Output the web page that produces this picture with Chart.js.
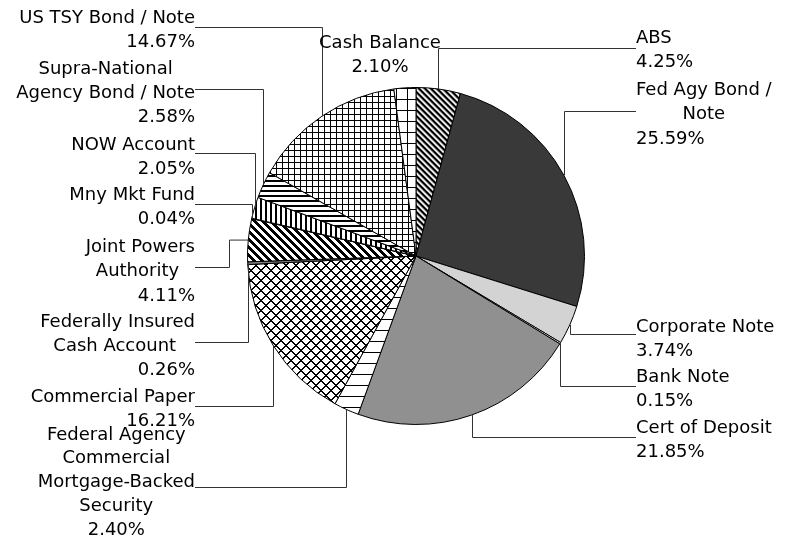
<!DOCTYPE html>
<html>
<head>
<meta charset="utf-8">
<script src="https://cdn.jsdelivr.net/npm/chart.js@4.4.1/dist/chart.umd.min.js"></script>
<style>
  html, body { margin: 0; padding: 0; background: #fff; }
  canvas { display: block; }
</style>
</head>
<body>
<canvas id="pie" width="794" height="541"></canvas>
<script>
// slices, clockwise from 12 o'clock
const categories = [
  "ABS", "Fed Agy Bond / Note", "Corporate Note", "Bank Note", "Cert of Deposit",
  "Federal Agency Commercial Mortgage-Backed Security", "Commercial Paper",
  "Federally Insured Cash Account", "Joint Powers Authority", "Mny Mkt Fund",
  "NOW Account", "Supra-National Agency Bond / Note", "US TSY Bond / Note", "Cash Balance"
];
const shares = [4.25, 25.59, 3.74, 0.15, 21.85, 2.40, 16.21, 0.26, 4.11, 0.04, 2.05, 2.58, 14.67, 2.10];

// where each label sits (x = edge given by align, y = centre of first line, ly = leader height)
const labelSpots = [
  { x: 636, y: 36, align: "left", lines: ["ABS"], ly: 48 },
  { x: 636, y: 88.3, align: "left", lines: ["Fed Agy Bond /", "Note"], ly: 111 },
  { x: 636, y: 325.5, align: "left", lines: ["Corporate Note"], ly: 334 },
  { x: 636, y: 375.5, align: "left", lines: ["Bank Note"], ly: 386 },
  { x: 636, y: 426, align: "left", lines: ["Cert of Deposit"], ly: 437 },
  { x: 195, y: 433, align: "right", lines: ["Federal Agency", "Commercial", "Mortgage-Backed", "Security"], ly: 487, pct: "center", step: 23.8 },
  { x: 195, y: 395, align: "right", lines: ["Commercial Paper"], ly: 406 },
  { x: 195, y: 320, align: "right", lines: ["Federally Insured", "Cash Account "], ly: 342 },
  { x: 195, y: 245.5, align: "right", lines: ["Joint Powers", "Authority "], ly: 267, bend: 229 },
  { x: 195, y: 193.5, align: "right", lines: ["Mny Mkt Fund"], ly: 204 },
  { x: 195, y: 143, align: "right", lines: ["NOW Account"], ly: 153 },
  { x: 195, y: 67, align: "right", lines: ["Supra-National", "Agency Bond / Note"], ly: 89 },
  { x: 195, y: 16.5, align: "right", lines: ["US TSY Bond / Note"], ly: 27 },
  { x: 380, y: 41.5, align: "center", lines: ["Cash Balance"], ly: null }
];

const FONT = '18px "DejaVu Sans"';
const LINE = 24.4;
const CAP = 6.5; // half cap height, centre -> baseline

const canvas = document.getElementById("pie");
const ctx = canvas.getContext("2d");

// little bitmap fills like the office hatch patterns
function hatch(w, h, paint) {
  const c = document.createElement("canvas");
  c.width = w; c.height = h;
  const g = c.getContext("2d");
  g.fillStyle = "#fff";
  g.fillRect(0, 0, w, h);
  for (let y = 0; y < h; y++) {
    for (let x = 0; x < w; x++) {
      const col = paint(x, y);
      if (col) { g.fillStyle = col; g.fillRect(x, y, 1, 1); }
    }
  }
  return ctx.createPattern(c, "repeat");
}
const mod = (a, n) => ((a % n) + n) % n;

const absFill = hatch(6, 6, (x, y) => ["#000", "#000", "#888", "#fff", "#ccc", "#666"][mod(x - y, 6)]);
const cmbsFill = hatch(4, 11, (x, y) => y === 0 ? "#000" : null);
const paperFill = hatch(10, 10, (x, y) => (mod(x + y, 10) < 2 || mod(x - y, 10) < 2) ? "#000" : null);
const jpaFill = hatch(8, 8, (x, y) => mod(x - y, 8) < 4 ? "#000" : null);
const nowFill = hatch(5, 5, (x, y) => x < 2 ? "#000" : null);
const supraFill = hatch(5, 5, (x, y) => y < 2 ? "#000" : null);
const tsyFill = hatch(6, 6, (x, y) => (x === 0 || y === 0) ? "#000" : null);
const cashFill = hatch(11, 11, (x, y) => (x === 0 || y === 0) ? "#000" : null);

const fills = [absFill, "#393939", "#d3d3d3", "#ffffff", "#909090", cmbsFill, paperFill,
  "#808080", jpaFill, "#ffffff", nowFill, supraFill, tsyFill, cashFill];

const px = v => Math.round(v) + 0.5;

const callouts = {
  id: "callouts",
  afterDraw(chart) {
    const c = chart.ctx;
    const arcs = chart.getDatasetMeta(0).data;
    c.save();
    c.font = FONT;
    c.textBaseline = "alphabetic";
    c.fillStyle = "#000";
    c.strokeStyle = "#333";
    c.lineWidth = 1;
    labelSpots.forEach((s, i) => {
      const step = s.step || LINE;
      const w = Math.max(...s.lines.map(t => c.measureText(t).width));
      const left = s.align === "left" ? s.x : s.align === "right" ? s.x - w : s.x - w / 2;
      const mid = left + w / 2;
      c.textAlign = "center";
      s.lines.forEach((t, k) => c.fillText(t, mid, s.y + k * step + CAP));
      const pct = shares[i].toFixed(2) + "%";
      const pa = s.pct || s.align;
      c.textAlign = pa;
      c.fillText(pct, pa === "center" ? mid : s.x, s.y + s.lines.length * step + CAP);

      if (s.ly == null) return;
      const a = arcs[i].getProps(["x", "y", "startAngle", "endAngle", "outerRadius"], true);
      const m = (a.startAngle + a.endAngle) / 2;
      const ex = a.x + a.outerRadius * Math.cos(m);
      const ey = a.y + a.outerRadius * Math.sin(m);
      const bx = s.bend != null ? s.bend : ex;
      c.beginPath();
      c.moveTo(s.x, px(s.ly));
      c.lineTo(px(bx), px(s.ly));
      c.lineTo(px(bx), ey);
      if (s.bend != null) c.lineTo(ex, ey);
      c.stroke();
    });
    c.restore();
  }
};

new Chart(ctx, {
  type: "pie",
  data: {
    labels: categories,
    datasets: [{
      data: shares,
      backgroundColor: fills,
      borderColor: "#000",
      borderWidth: 1
    }]
  },
  options: {
    responsive: false,
    animation: false,
    layout: { padding: { left: 247, right: 209, top: 87, bottom: 116 } },
    plugins: { legend: { display: false }, tooltip: { enabled: false } }
  },
  plugins: [callouts]
});
</script>
</body>
</html>
